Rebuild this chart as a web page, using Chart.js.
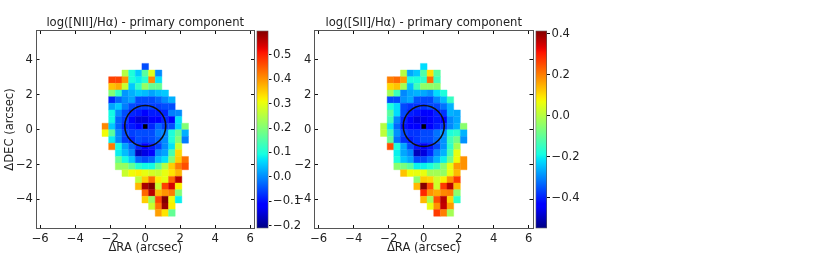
<!DOCTYPE html>
<html>
<head>
<meta charset="utf-8">
<title>Line ratio maps</title>
<script src="https://cdn.jsdelivr.net/npm/chart.js@4"></script>
<style>
  html, body { margin: 0; padding: 0; background: #fff; }
  canvas { position: absolute; left: 0; top: 0; }
</style>
</head>
<body>
<canvas id="mapNII" width="830" height="259"></canvas>
<canvas id="barNII" width="830" height="259"></canvas>
<canvas id="mapSII" width="830" height="259"></canvas>
<canvas id="barSII" width="830" height="259"></canvas>
<script>
// --- Data ---
const raCenters = [-2.28, -1.90, -1.52, -1.14, -0.76, -0.38, 0, 0.38, 0.76, 1.14, 1.52, 1.90, 2.28];
const decCenters = [3.59, 3.21, 2.83, 2.45, 2.07, 1.69, 1.31, 0.93, 0.55, 0.17, -0.21, -0.59, -0.97, -1.35, -1.73, -2.11, -2.49, -2.87, -3.25, -3.63, -4.01, -4.39, -4.77];
const _ = null;

const niiRows = [
  [_, _, _, _, _, _, -0.05, _, _, _, _, _, _],
  [_, _, _, 0.25, 0.10, 0.05, 0.16, 0.29, 0.00, _, _, _, _],
  [_, 0.47, 0.47, 0.40, 0.10, 0.08, 0.11, 0.41, 0.07, _, _, _, _],
  [_, 0.36, 0.38, 0.27, 0.05, 0.12, 0.22, 0.17, 0.17, _, _, _, _],
  [_, 0.20, 0.12, 0.01, 0.03, 0.05, 0.04, 0.02, 0.04, 0.05, _, _, _],
  [_, -0.08, -0.03, 0.00, 0.02, -0.05, -0.05, -0.05, -0.03, 0.00, 0.03, _, _],
  [_, 0.02, 0.05, -0.01, -0.05, -0.06, -0.06, -0.06, -0.06, -0.05, -0.05, _, _],
  [_, 0.09, 0.00, -0.05, -0.08, -0.09, -0.12, -0.09, -0.09, -0.08, -0.01, 0.00, _],
  [_, 0.09, -0.03, -0.06, -0.11, -0.15, -0.15, -0.12, -0.12, -0.08, -0.12, 0.07, _],
  [0.41, 0.05, -0.03, -0.08, -0.09, -0.11, -0.09, -0.08, -0.03, -0.06, -0.05, 0.06, 0.20],
  [0.31, 0.16, 0.00, -0.05, -0.06, -0.05, -0.05, -0.05, -0.01, 0.00, 0.10, 0.17, 0.03],
  [_, 0.08, 0.00, -0.06, -0.08, -0.05, -0.06, -0.05, -0.03, 0.00, 0.10, 0.20, -0.01],
  [_, 0.42, 0.09, 0.02, -0.03, -0.08, -0.12, -0.09, -0.06, 0.00, 0.07, 0.27, _],
  [_, _, 0.08, 0.04, 0.00, -0.17, -0.14, -0.11, 0.00, 0.02, 0.14, 0.34, _],
  [_, _, 0.17, 0.09, 0.05, -0.03, -0.05, -0.03, 0.04, 0.07, 0.20, 0.35, 0.43],
  [_, _, 0.22, 0.22, 0.17, 0.11, 0.09, 0.09, 0.17, 0.25, 0.35, 0.42, 0.46],
  [_, _, _, 0.27, 0.31, 0.32, 0.30, 0.28, 0.27, 0.30, 0.33, 0.37, _],
  [_, _, _, _, _, 0.26, 0.35, 0.43, 0.32, 0.30, 0.44, 0.56, _],
  [_, _, _, _, _, 0.37, 0.57, 0.60, 0.27, 0.47, 0.54, 0.32, _],
  [_, _, _, _, _, _, 0.44, 0.56, 0.37, 0.40, 0.42, 0.20, _],
  [_, _, _, _, _, _, 0.35, 0.22, 0.47, 0.60, 0.31, 0.08, _],
  [_, _, _, _, _, _, _, 0.27, 0.43, 0.58, 0.32, _, _],
  [_, _, _, _, _, _, _, _, 0.39, 0.33, 0.17, _, _]
];

const siiRows = [
  [_, _, _, _, _, _, -0.22, _, _, _, _, _, _],
  [_, _, _, 0.00, -0.27, -0.24, -0.12, 0.10, -0.11, _, _, _, _],
  [_, 0.20, 0.22, 0.17, -0.18, -0.18, -0.16, 0.22, -0.14, _, _, _, _],
  [_, 0.11, 0.13, -0.02, -0.25, -0.14, -0.04, -0.04, -0.05, _, _, _, _],
  [_, -0.02, -0.14, -0.30, -0.27, -0.26, -0.27, -0.29, -0.22, -0.18, _, _, _],
  [_, -0.36, -0.36, -0.29, -0.27, -0.35, -0.36, -0.36, -0.30, -0.25, -0.15, _, _],
  [_, -0.18, -0.22, -0.36, -0.38, -0.38, -0.38, -0.36, -0.36, -0.32, -0.26, _, _],
  [_, -0.11, -0.22, -0.36, -0.40, -0.41, -0.43, -0.43, -0.40, -0.38, -0.26, -0.27, _],
  [_, -0.14, -0.30, -0.39, -0.43, -0.47, -0.46, -0.44, -0.41, -0.43, -0.30, -0.27, _],
  [0.00, -0.21, -0.33, -0.41, -0.43, -0.44, -0.45, -0.43, -0.40, -0.38, -0.30, -0.26, -0.05],
  [0.01, -0.14, -0.29, -0.36, -0.38, -0.38, -0.36, -0.36, -0.32, -0.29, -0.18, -0.16, -0.26],
  [_, -0.10, -0.32, -0.38, -0.40, -0.38, -0.36, -0.36, -0.33, -0.29, -0.14, -0.08, -0.29],
  [_, 0.25, -0.18, -0.27, -0.36, -0.41, -0.45, -0.41, -0.36, -0.29, -0.16, -0.02, _],
  [_, _, -0.20, -0.27, -0.30, -0.50, -0.47, -0.39, -0.30, -0.26, -0.13, 0.06, _],
  [_, _, -0.18, -0.24, -0.27, -0.36, -0.36, -0.32, -0.26, -0.20, -0.08, 0.07, 0.18],
  [_, _, -0.05, -0.07, -0.11, -0.20, -0.20, -0.18, -0.14, -0.05, 0.06, 0.17, 0.18],
  [_, _, _, 0.13, 0.07, 0.06, 0.06, -0.02, -0.02, -0.04, 0.06, 0.14, _],
  [_, _, _, _, _, -0.05, 0.12, 0.11, 0.03, 0.08, 0.18, 0.27, _],
  [_, _, _, _, _, 0.14, 0.41, 0.25, 0.03, 0.27, 0.37, 0.14, _],
  [_, _, _, _, _, _, 0.29, 0.18, 0.155, 0.19, 0.20, -0.05, _],
  [_, _, _, _, _, _, 0.14, -0.02, 0.25, 0.37, 0.11, -0.16, _],
  [_, _, _, _, _, _, _, 0.06, 0.18, 0.36, 0.17, _, _],
  [_, _, _, _, _, _, _, _, 0.27, 0.20, -0.02, _, _]
];

const raTicks = [-6, -4, -2, 0, 2, 4, 6];
const decTicks = [-4, -2, 0, 2, 4];
const niiBarTicks = [-0.2, -0.1, 0, 0.1, 0.2, 0.3, 0.4, 0.5];
const siiBarTicks = [-0.4, -0.2, 0, 0.2, 0.4];
const niiRange = [-0.212, 0.6];
const siiRange = [-0.55, 0.416];

const apertureCenter = [{ x: 0, y: 0.2 }];
const nucleus = [{ x: 0, y: 0.17 }];

const textColor = '#222';
const spineColor = '#555';
const tickFont = { family: 'DejaVu Sans', size: 11.6 };

Chart.defaults.animation = false;
Chart.defaults.responsive = false;
Chart.defaults.font.family = 'DejaVu Sans';
Chart.defaults.color = textColor;

// matplotlib jet
function jet(t) {
    t = Math.min(1, Math.max(0, t));
    const ramp = (points) => {
        for (let i = 1; i < points.length; i++) {
            if (t <= points[i][0]) {
                const [x0, y0] = points[i - 1];
                const [x1, y1] = points[i];
                return y0 + (y1 - y0) * (t - x0) / (x1 - x0);
            }
        }
        return points[points.length - 1][1];
    };
    const r = ramp([[0, 0], [0.35, 0], [0.66, 1], [0.89, 1], [1, 0.5]]);
    const g = ramp([[0, 0], [0.125, 0], [0.375, 1], [0.64, 1], [0.91, 0], [1, 0]]);
    const b = ramp([[0, 0.5], [0.11, 1], [0.34, 1], [0.65, 0], [1, 0]]);
    return `rgb(${Math.round(r * 255)},${Math.round(g * 255)},${Math.round(b * 255)})`;
}

const minusLabel = (text) => String(text).replace('-', '\u2212');
const setTicks = (values) => (axis) => { axis.ticks = values.map(value => ({ value })); };
const fixWidth = (w) => (axis) => { axis.width = w; };
const fixHeight = (h) => (axis) => { axis.height = h; };

function flattenCells(rows) {
    const cells = [];
    rows.forEach((row, r) => row.forEach((v, c) => {
        if (v !== null) cells.push({ x: raCenters[c], y: decCenters[r], v });
    }));
    return cells;
}

// radius of a point whose size is given in arcsec on the x scale
const radiusInData = (chart, size) => Math.abs(chart.scales.x.getPixelForValue(size) - chart.scales.x.getPixelForValue(0));

function renderMap(id, title, rows, range, box, yTitle) {
    const span = range[1] - range[0];
    const color = (c) => jet((c.raw.v - range[0]) / span);
    const inwardAxis = (position, values, w, h) => ({
        type: 'linear',
        position,
        afterBuildTicks: setTicks(values),
        afterFit: w !== null ? fixWidth(w) : fixHeight(h),
        border: { color: spineColor, width: 1 },
        grid: { drawOnChartArea: false, tickLength: -3.5, color: '#111', tickWidth: 1 }
    });

    new Chart(document.getElementById(id), {
        type: 'scatter',
        data: {
            datasets: [
                {
                    data: apertureCenter,
                    pointStyle: 'circle',
                    pointRadius: (c) => radiusInData(c.chart, 1.17),
                    pointBackgroundColor: 'rgba(0,0,0,0)',
                    pointBorderColor: '#111',
                    pointBorderWidth: 1.6,
                    order: 0
                },
                {
                    data: nucleus,
                    pointStyle: 'rect',
                    pointRadius: (c) => radiusInData(c.chart, 0.125) * Math.SQRT2,
                    pointBackgroundColor: '#000',
                    pointBorderWidth: 0,
                    order: 1
                },
                {
                    data: flattenCells(rows),
                    pointStyle: 'rect',
                    pointRadius: (c) => radiusInData(c.chart, 0.19) * Math.SQRT2,
                    pointBackgroundColor: color,
                    pointBorderColor: color,
                    pointBorderWidth: 0.4,
                    order: 2
                }
            ]
        },
        options: {
            layout: { padding: { left: box.left - 36, right: 830 - box.right, top: 15.6, bottom: 0 } },
            plugins: {
                legend: { display: false },
                tooltip: { enabled: false },
                title: {
                    display: true,
                    text: title,
                    fullSize: false,
                    color: textColor,
                    font: { family: 'DejaVu Sans', size: 11.6, weight: 'normal' },
                    padding: { top: 0, bottom: 1 }
                }
            },
            scales: {
                x: {
                    ...inwardAxis('bottom', raTicks, null, 30.5),
                    min: -6.24, max: 6.24,
                    ticks: { font: tickFont, color: textColor, padding: 7, maxRotation: 0, callback: minusLabel },
                    title: { display: true, text: '\u0394RA (arcsec)', font: tickFont, color: textColor, padding: 4 }
                },
                y: {
                    ...inwardAxis('left', decTicks, 36, null),
                    min: -5.66, max: 5.66,
                    ticks: { font: tickFont, color: textColor, padding: 6.5, callback: minusLabel },
                    title: { display: yTitle, text: '\u0394DEC (arcsec)', font: tickFont, color: textColor, padding: 3 }
                },
                xTop: {
                    ...inwardAxis('top', raTicks, null, 0),
                    min: -6.24, max: 6.24,
                    ticks: { display: false }
                },
                yRight: {
                    ...inwardAxis('right', decTicks, 0, null),
                    min: -5.66, max: 5.66,
                    ticks: { display: false }
                }
            }
        }
    });
}

function renderColorbar(id, range, tickValues, box) {
    const gradient = (c) => {
        const { ctx, chartArea } = c.chart;
        if (!chartArea) return '#000';
        const g = ctx.createLinearGradient(0, chartArea.bottom, 0, chartArea.top);
        for (let s = 0; s <= 64; s++) g.addColorStop(s / 64, jet(s / 64));
        return g;
    };

    new Chart(document.getElementById(id), {
        type: 'bar',
        data: {
            labels: [''],
            datasets: [{
                data: [range],
                backgroundColor: gradient,
                borderColor: spineColor,
                borderWidth: 1,
                borderSkipped: false,
                barPercentage: 1,
                categoryPercentage: 1
            }]
        },
        options: {
            layout: { padding: { left: box.left, right: 830 - box.right - 34, top: 30.5, bottom: 30.5 } },
            plugins: { legend: { display: false }, tooltip: { enabled: false }, title: { display: false } },
            scales: {
                x: { display: false },
                y: {
                    position: 'right',
                    min: range[0], max: range[1],
                    afterBuildTicks: setTicks(tickValues),
                    afterFit: fixWidth(34),
                    border: { display: false },
                    grid: { drawOnChartArea: false, tickLength: 3, color: '#111' },
                    ticks: { font: tickFont, color: textColor, padding: 1.5, callback: (v) => minusLabel(v.toFixed(1)) }
                }
            }
        }
    });
}

function main() {
    renderMap('mapNII', 'log([NII]/H\u03b1) - primary component', niiRows, niiRange, { left: 36, right: 254.5 }, true);
    renderColorbar('barNII', niiRange, niiBarTicks, { left: 256.5, right: 268.5 });
    renderMap('mapSII', 'log([SII]/H\u03b1) - primary component', siiRows, siiRange, { left: 314.5, right: 533 }, false);
    renderColorbar('barSII', siiRange, siiBarTicks, { left: 535.5, right: 547 });
}

main();
</script>
</body>
</html>
